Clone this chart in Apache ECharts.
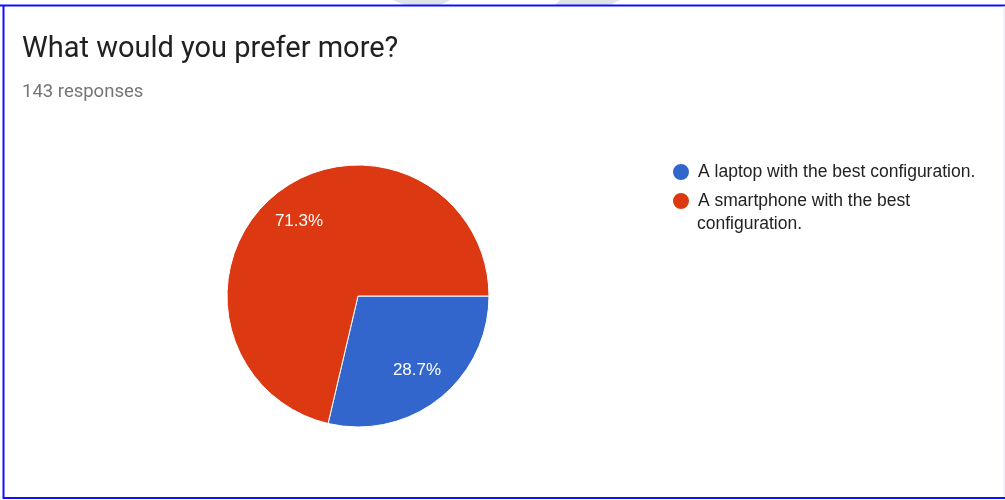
<!DOCTYPE html>
<html>
<head>
<meta charset="utf-8">
<script src="https://cdn.jsdelivr.net/npm/echarts@6/dist/echarts.min.js"></script>
<style>
  html, body { margin: 0; padding: 0; background: #fff; }
  #chart { width: 1005px; height: 500px; }
</style>
</head>
<body>
<div id="chart"></div>
<script>
const titleText = 'What would you prefer more?'
const subText = '143 responses'
const categories = ['A laptop with the best configuration.', 'A smartphone with the best configuration.']
// legend text as wrapped in the picture: first line beside the dot, rest underneath
const legendFirstLines = ['A laptop with the best configuration.', 'A smartphone with the best']
const legendMoreLines = ['', 'configuration.']
const counts = [41, 102]
const colors = ['#3366cc', '#dc3912']

const pieData = categories.map((name, i) => ({
  name: name,
  value: counts[i],
  itemStyle: { color: colors[i] }
}))

const legendFont = { fontFamily: 'Liberation Sans', fontSize: 17.5, color: '#222222' }
const legendTop = 160
const legendStep = 29

// continuation lines of wrapped legend entries
const wrapTexts = legendMoreLines
  .map((t, i) => ({ t, i }))
  .filter(d => d.t)
  .map(d => ({
    type: 'text',
    silent: true,
    x: 697,
    y: legendTop + 12 + d.i * legendStep + 23,
    style: Object.assign({ text: d.t, verticalAlign: 'middle', fill: legendFont.color,
      font: legendFont.fontSize + 'px "' + legendFont.fontFamily + '"' })
  }))

let myChart = echarts.init(document.getElementById('chart'))
let option = {
  animation: false,
  title: {
    text: titleText,
    subtext: subText,
    left: 17,
    top: 30,
    itemGap: 19,
    textStyle: {
      fontFamily: 'Roboto',
      fontSize: 29,
      fontWeight: 'normal',
      color: '#212121'
    },
    subtextStyle: {
      fontFamily: 'Roboto',
      fontSize: 18.5,
      color: '#757575'
    }
  },
  legend: {
    orient: 'vertical',
    left: 666,
    top: legendTop - 5,
    icon: 'circle',
    itemWidth: 18,
    itemHeight: 18,
    itemGap: legendStep - 24,
    data: categories,
    formatter: name => legendFirstLines[categories.indexOf(name)],
    textStyle: Object.assign({ lineHeight: 24, padding: [0, 0, 0, 3] }, legendFont)
  },
  graphic: [
    {
      type: 'polygon',
      silent: true,
      shape: { points: [[393, 0], [450, 0], [440, 5], [405, 5]] },
      style: { fill: '#dde3e6' }
    },
    {
      type: 'polygon',
      silent: true,
      shape: { points: [[560, 0], [620, 0], [610, 5], [555, 5]] },
      style: { fill: '#dde3e6' }
    },
    {
      type: 'line',
      silent: true,
      shape: { x1: 0, y1: 5.5, x2: 1005, y2: 5.5 },
      style: { stroke: '#1010ff', lineWidth: 2 }
    },
    {
      type: 'line',
      silent: true,
      shape: { x1: 3.5, y1: 5, x2: 3.5, y2: 499 },
      style: { stroke: '#1010ff', lineWidth: 2 }
    },
    {
      type: 'line',
      silent: true,
      shape: { x1: 3, y1: 498, x2: 1005, y2: 498 },
      style: { stroke: '#1010ff', lineWidth: 2 }
    },
    {
      type: 'line',
      silent: true,
      shape: { x1: 1004, y1: 6, x2: 1004, y2: 497 },
      style: { stroke: '#e4e4f8', lineWidth: 1 }
    }
  ].concat(wrapTexts),
  series: [
    {
      name: 'responses',
      type: 'pie',
      center: [358, 296],
      radius: [0, 131],
      startAngle: 0,
      clockwise: true,
      silent: true,
      label: { show: false },
      labelLine: { show: false },
      itemStyle: { borderColor: '#ffffff', borderWidth: 1 },
      data: pieData
    },
    {
      name: 'labels',
      type: 'pie',
      center: [358, 296],
      radius: [53, 131],
      startAngle: 0,
      clockwise: true,
      silent: true,
      itemStyle: { color: 'rgba(0,0,0,0)' },
      label: {
        show: true,
        position: 'inside',
        formatter: p => p.percent.toFixed(1) + '%',
        fontFamily: 'Liberation Sans',
        fontSize: 17,
        color: '#ffffff'
      },
      labelLine: { show: false },
      data: categories.map((name, i) => ({ name: name, value: counts[i] }))
    }
  ]
}
option && myChart.setOption(option)
</script>
</body>
</html>
